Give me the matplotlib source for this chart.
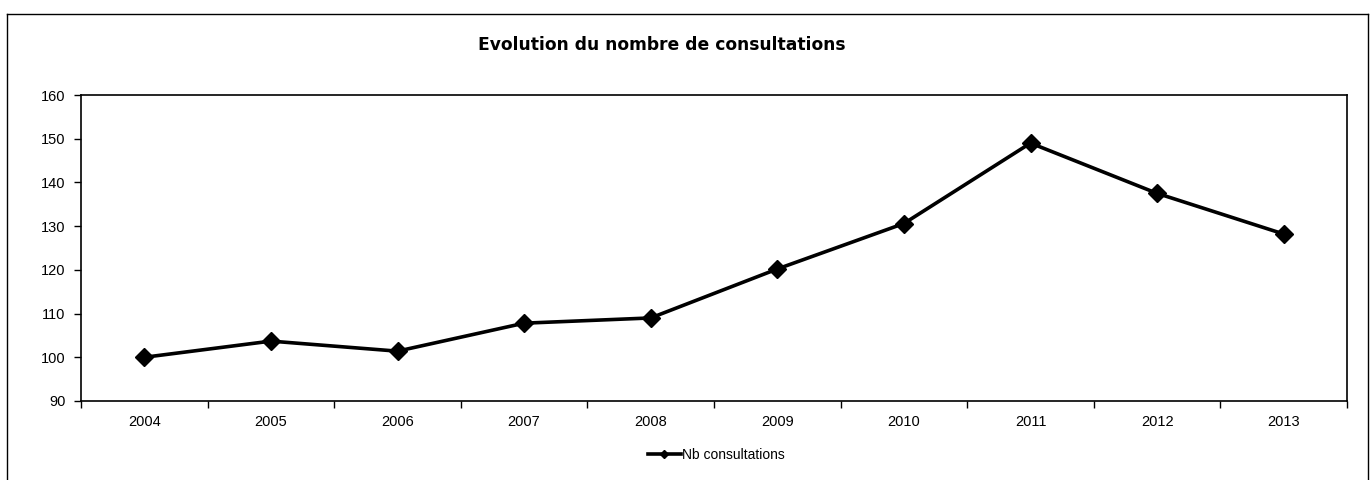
import matplotlib
matplotlib.use("Agg")
import matplotlib.pyplot as plt
from matplotlib.lines import Line2D

# Consultations per year
years = ["2004", "2005", "2006", "2007", "2008", "2009", "2010", "2011", "2012", "2013"]
consultations = [100, 103.7, 101.4, 107.8, 109, 120.2, 130.6, 149, 137.5, 128.2]

plt.rcParams["font.family"] = ["Liberation Sans", "DejaVu Sans"]

fig = plt.figure(figsize=(13.72, 4.8), dpi=100)
W, H = 1372, 480

# outer chart frame (open at the bottom)
fx0, fx1, fy0 = 7 / W, 1368 / W, 1 - 14 / H
for xs, ys in [([fx0, fx0], [0, fy0]), ([fx0, fx1], [fy0, fy0]), ([fx1, fx1], [fy0, 0])]:
    fig.add_artist(Line2D(xs, ys, color="black", lw=1.0, transform=fig.transFigure))

ax = fig.add_axes([81 / W, 1 - 401 / H, (1347 - 81) / W, (401 - 95) / H])

x = list(range(len(years)))
line, = ax.plot(x, consultations, color="black", lw=2.6, marker="D",
                markersize=9, markerfacecolor="black", markeredgecolor="black",
                label="Nb consultations")

ax.set_xlim(-0.5, len(years) - 0.5)
ax.set_ylim(90, 160)
ax.set_yticks(range(90, 161, 10))
ax.set_xticks(x)
ax.set_xticklabels(years)
ax.tick_params(axis="x", length=0, pad=10, labelsize=10.5)
ax.tick_params(axis="y", length=5, width=1, pad=6, labelsize=10.5)

# category separators on the x axis
ax.set_xticks([i - 0.5 for i in range(len(years) + 1)], minor=True)
ax.tick_params(axis="x", which="minor", length=5, width=1, direction="out")

for s in ax.spines.values():
    s.set_linewidth(1.2)
    s.set_color("black")

fig.text(662 / W, 1 - 45 / H, "Evolution du nombre de consultations",
         ha="center", va="center", fontsize=12.3, fontweight="heavy",
         family=["DejaVu Sans"])

handle = Line2D([], [], color="black", lw=2.6, marker="D", markersize=4)
fig.legend([handle], ["Nb consultations"], loc="center",
           bbox_to_anchor=(716 / W, 1 - 455 / H), frameon=False,
           fontsize=10, handlelength=2.4, handletextpad=0.05)

fig.savefig("out.png", dpi=100)
